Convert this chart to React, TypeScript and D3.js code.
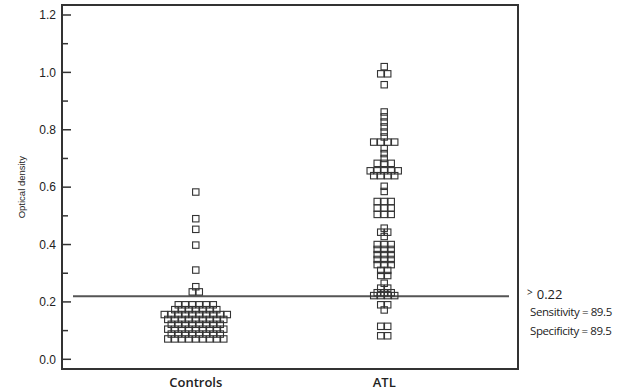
import React from "react";
import * as d3 from "d3";

// categories and values
const categories = ["Controls", "ATL"];

const controlsValues = [
  0.583, 0.49, 0.453, 0.398, 0.311, 0.253, 0.235, 0.235,
  0.19, 0.19, 0.19, 0.19, 0.19, 0.19,
  0.173, 0.173, 0.173, 0.173, 0.173, 0.173, 0.173,
  0.156, 0.156, 0.156, 0.156, 0.156, 0.156, 0.156, 0.156, 0.156, 0.156,
  0.139, 0.139, 0.139, 0.139, 0.139, 0.139, 0.139, 0.139, 0.139,
  0.122, 0.122, 0.122, 0.122, 0.122, 0.122, 0.122, 0.122,
  0.105, 0.105, 0.105, 0.105, 0.105, 0.105, 0.105, 0.105, 0.105,
  0.088, 0.088, 0.088, 0.088, 0.088, 0.088, 0.088, 0.088,
  0.071, 0.071, 0.071, 0.071, 0.071, 0.071, 0.071, 0.071, 0.071,
];

const atlValues = [
  1.02, 0.995, 0.995, 0.957,
  0.862, 0.845, 0.827, 0.81, 0.792,
  0.775, 0.757, 0.757, 0.757, 0.757,
  0.734, 0.717, 0.7,
  0.683, 0.683, 0.683,
  0.657, 0.657, 0.657, 0.657, 0.657,
  0.64, 0.64, 0.64, 0.64,
  0.603, 0.585,
  0.55, 0.55, 0.55, 0.527, 0.527, 0.527, 0.505, 0.505, 0.505,
  0.457, 0.443, 0.443, 0.428,
  0.4, 0.4, 0.4, 0.383, 0.383, 0.383, 0.365, 0.365, 0.365,
  0.348, 0.348, 0.348, 0.33, 0.33, 0.33,
  0.31, 0.31, 0.292, 0.292,
  0.265, 0.248, 0.248, 0.232, 0.232, 0.232, 0.222, 0.222, 0.222, 0.222,
  0.19, 0.19, 0.172, 0.115, 0.115, 0.082, 0.082,
];

const yTicks = [0, 0.1, 0.2, 0.3, 0.4, 0.5, 0.6, 0.7, 0.8, 0.9, 1.0, 1.1, 1.2];
const yTickLabels = ["0.0", "", "0.2", "", "0.4", "", "0.6", "", "0.8", "", "1.0", "", "1.2"];
const yLabel = "Optical density";
const cutoff = 0.22;
const cutoffLabel = "0.22";
const statsLines = ["Sensitivity = 89.5", "Specificity = 89.5"];

const W = 633;
const H = 391;
const frame = { left: 62, right: 518, top: 5, bottom: 369 };

export default function App() {
  const y = d3.scaleLinear().domain([0, 1.2]).range([359.3, 15]);
  const x = d3
    .scalePoint<string>()
    .domain(categories)
    .range([frame.left, frame.right])
    .padding(0.71);

  const box = 6.4;
  const step = 7;

  // simple dot-plot layout: equal values are spread side by side
  const points = [controlsValues, atlValues].flatMap((vals, si) => {
    const cx0 = x(categories[si]) as number;
    return d3.groups(vals, (v) => v).flatMap(([v, arr]) =>
      arr.map((_, i) => ({
        key: `${si}-${v}-${i}`,
        cx: cx0 + (i - (arr.length - 1) / 2) * step,
        cy: y(v),
      }))
    );
  });

  const axisColor = "#333";

  return (
    <svg
      width={W}
      height={H}
      style={{ position: "absolute", left: 0, top: 0, background: "#fff" }}
    >
      {/* frame */}
      <rect
        x={frame.left}
        y={frame.top}
        width={frame.right - frame.left}
        height={frame.bottom - frame.top}
        fill="none"
        stroke={axisColor}
        strokeWidth={2}
      />

      {/* y ticks (inside) and labels */}
      {yTicks.map((t, i) => {
        const major = i % 2 === 0;
        return (
          <g key={t} transform={`translate(0,${y(t)})`}>
            <line
              x1={frame.left}
              x2={frame.left + (major ? 9 : 6)}
              stroke={axisColor}
              strokeWidth={1.5}
            />
            {major && (
              <text
                x={56}
                dy="0.36em"
                textAnchor="end"
                fontFamily="Liberation Sans, Arial, sans-serif"
                fontSize={12}
                fill="#222"
              >
                {yTickLabels[i]}
              </text>
            )}
          </g>
        );
      })}

      <text
        transform={`translate(25,${y(0.6)}) rotate(-90)`}
        textAnchor="middle"
        fontFamily="Liberation Sans, Arial, sans-serif"
        fontSize={9.5}
        fill="#222"
      >
        {yLabel}
      </text>

      {/* cut-off line */}
      <line
        x1={frame.left + 11}
        x2={frame.right - 9}
        y1={y(cutoff)}
        y2={y(cutoff)}
        stroke="#555"
        strokeWidth={2}
      />

      {/* points */}
      {points.map((p) => (
        <rect
          key={p.key}
          x={p.cx - box / 2}
          y={p.cy - box / 2}
          width={box}
          height={box}
          fill="none"
          stroke="#333"
          strokeWidth={1.1}
        />
      ))}

      {/* category labels */}
      {categories.map((c) => (
        <text
          key={c}
          x={x(c)}
          y={387}
          textAnchor="middle"
          fontFamily="Open Sans, sans-serif"
          fontWeight={600}
          fontSize={13}
          fill="#222"
        >
          {c}
        </text>
      ))}

      {/* annotation */}
      <text x={527} y={299} fontFamily="Open Sans, sans-serif" fill="#222">
        <tspan fontSize={10} dy={-3}>&gt;</tspan>
        <tspan fontSize={13} dx={4} dy={3}>{cutoffLabel}</tspan>
      </text>
      {statsLines.map((s, i) => (
        <text
          key={s}
          x={530}
          y={316 + i * 19}
          fontFamily="Open Sans, sans-serif"
          fontSize={11.5}
          letterSpacing={-0.4}
          fill="#222"
        >
          {s}
        </text>
      ))}
    </svg>
  );
}
